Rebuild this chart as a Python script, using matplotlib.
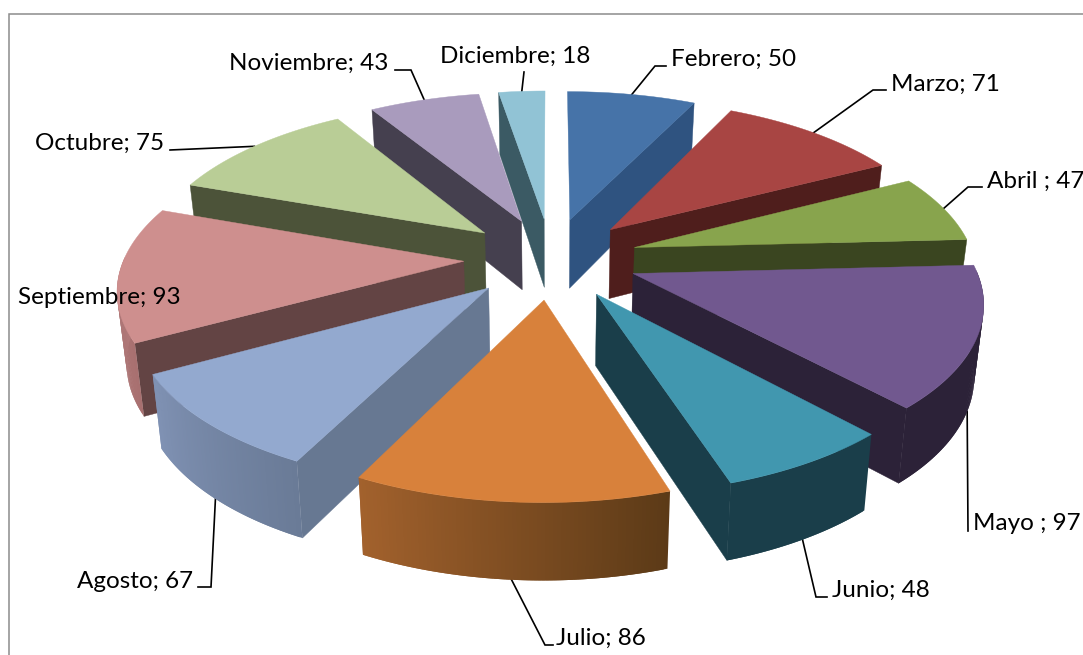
import matplotlib
matplotlib.use('Agg')
import matplotlib.pyplot as plt
from matplotlib.colors import to_rgb
import numpy as np

# Datos
meses = ['Febrero', 'Marzo', 'Abril ', 'Mayo ', 'Junio', 'Julio', 'Agosto',
         'Septiembre', 'Octubre', 'Noviembre', 'Diciembre']
valores = [50, 71, 47, 97, 48, 86, 67, 93, 75, 43, 18]

# Colores por porcion: cara superior, pared recta, pared curva (izq, der)
color_top = ['#4673A8', '#A84543', '#88A44D', '#71588F', '#4197AF', '#D8813B',
             '#93A9CF', '#CE8F8E', '#B9CD96', '#A99BBD', '#91C3D5']
color_wall = ['#2F5380', '#4F1E1C', '#3A4520', '#2C2238', '#1A3E4A', '#5C3A17',
              '#677892', '#634444', '#4C5339', '#45404F', '#3B5A64']
color_arc_a = ['#2F5380', '#4F1E1C', '#3A4520', '#2C2238', '#1A3E4A', '#A3622D',
               '#8092B4', '#B88080', '#4C5339', '#45404F', '#3B5A64']
color_arc_b = ['#2F5380', '#4F1E1C', '#3A4520', '#2C2238', '#1A3E4A', '#5C3A17',
               '#6A7B97', '#A87070', '#4C5339', '#45404F', '#3B5A64']

# Etiquetas: posicion del texto, alineacion y quiebres de la linea guia
label_xy = [(671, 59), (891, 84), (987, 181), (973, 524), (832, 590), (556, 638),
            (193, 581), (18, 298), (164, 143), (388, 63), (515, 56)]
label_ha = ['left', 'left', 'left', 'left', 'left', 'left',
            'right', 'left', 'right', 'right', 'center']
guia = [[(655, 66), (666, 66)], [(873, 90), (886, 90)], [(968, 187), (982, 187)],
        [(968, 531)], [(816, 597), (827, 597)], [(545, 645), (553, 645)],
        [(211, 587), (198, 587)], [], [(170, 150)], [(411, 70), (395, 70)], [(524, 72)]]

# Proyeccion
CX, CY = 551, 258
A, B = 339.5, 158
P = 0.15
E = 0.257
H = 70


def proy(x, y, abajo=False):
    w = 1 + P * y
    u = A * x / w
    v = -B * y / w
    if abajo:
        return CX + u * 0.978, CY + v + H * (1 - 0.09 * y)
    return CX + u, CY + v


fig = plt.figure(figsize=(10.83, 6.55), dpi=100)
ax = fig.add_axes([0, 0, 1, 1])
ax.set_xlim(0, 1083)
ax.set_ylim(655, 0)
ax.axis('off')

total = sum(valores)
limites = np.concatenate([[0], np.cumsum(valores)]) / total * 2 * np.pi

# orden de dibujo: de atras hacia adelante
medios = (limites[:-1] + limites[1:]) / 2
orden = np.argsort(-np.cos(medios))

for i in orden:
    a0, a1 = limites[i], limites[i + 1]
    m = medios[i]
    ox, oy = E * np.sin(m), E * np.cos(m)
    t = np.linspace(a0, a1, 80)
    xs = ox + np.sin(t)
    ys = oy + np.cos(t)

    # paredes rectas
    for a, visible in ((a0, np.sin(a0) < 0), (a1, np.sin(a1) > 0)):
        if visible:
            ex, ey = ox + np.sin(a), oy + np.cos(a)
            pts = [proy(ox, oy), proy(ex, ey), proy(ex, ey, True), proy(ox, oy, True)]
            ax.fill(*zip(*pts), color=color_wall[i], lw=0.3, zorder=2)

    # pared curva con degradado (tiras solapadas para que no se vean costuras)
    c0 = np.array(to_rgb(color_arc_a[i]))
    c1 = np.array(to_rgb(color_arc_b[i]))
    for j in range(len(t) - 1):
        if np.cos(t[j]) > 0.02:
            continue
        f = (t[j] - a0) / (a1 - a0)
        k = min(j + 2, len(t) - 1)
        pts = [proy(xs[j], ys[j]), proy(xs[k], ys[k]),
               proy(xs[k], ys[k], True), proy(xs[j], ys[j], True)]
        ax.fill(*zip(*pts), color=tuple(c0 * f + c1 * (1 - f)), lw=0, zorder=2)

    # cara superior
    top = [proy(ox, oy)] + [proy(x, y) for x, y in zip(xs, ys)]
    ax.fill(*zip(*top), color=color_top[i], lw=0.3, zorder=2)

# marco
ax.plot([8.5, 8.5, 1083], [655, 13.5, 13.5], color='#8c8c8c', lw=1.1, solid_joinstyle='miter')

# etiquetas
for i in range(len(meses)):
    m = medios[i]
    r = 1 + E
    inicio = proy(r * np.sin(m), r * np.cos(m), np.cos(m) < 0)
    if guia[i]:
        camino = [inicio] + guia[i]
        ax.plot(*zip(*camino), color='black', lw=1.2, solid_joinstyle='miter', zorder=1)
    ax.text(label_xy[i][0], label_xy[i][1], f'{meses[i]}; {valores[i]}', family='Lato',
            fontsize=17.5, ha=label_ha[i], va='center', color='black', clip_on=False, zorder=3)

fig.savefig('out.png', dpi=100)
